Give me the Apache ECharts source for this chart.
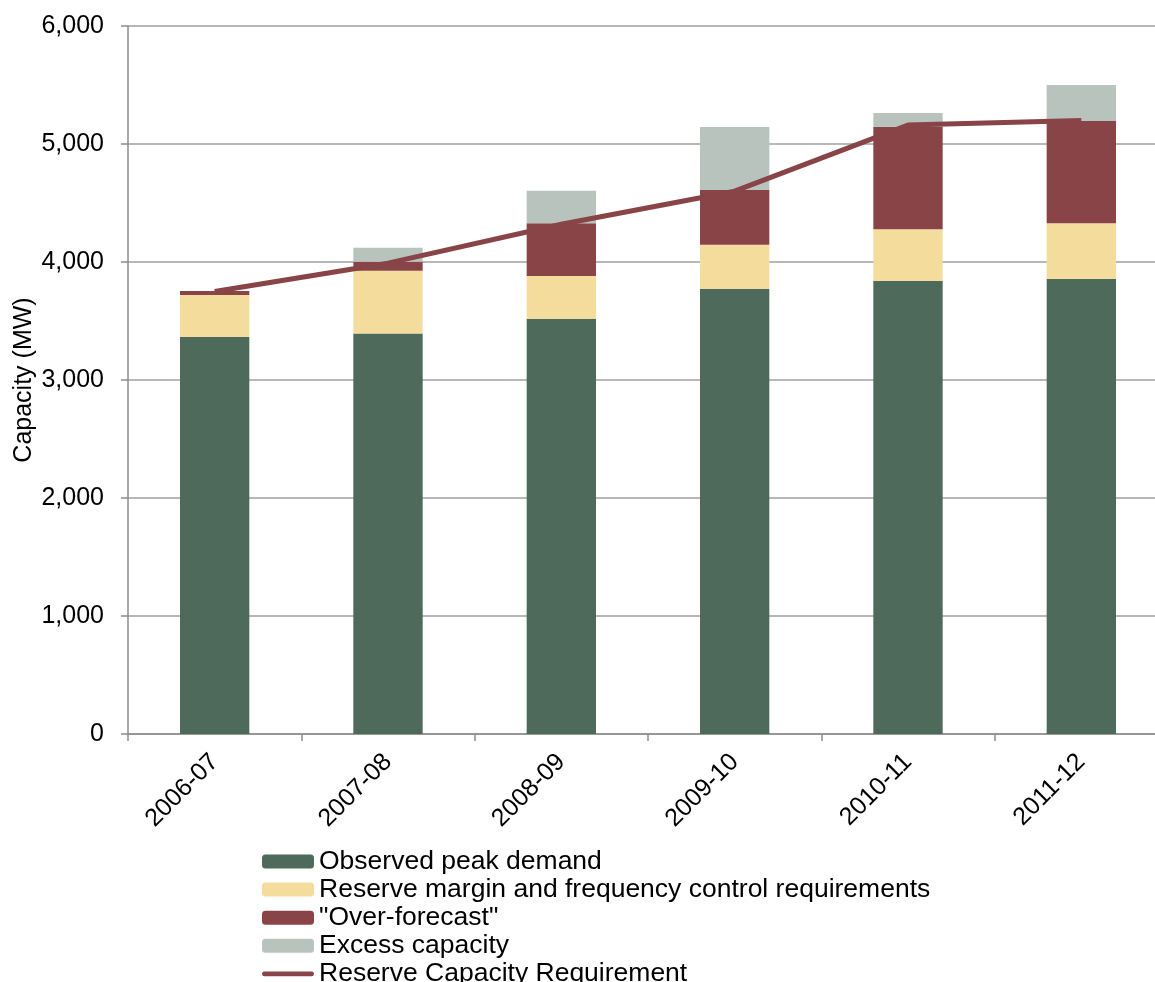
<!DOCTYPE html>
<html>
<head>
<meta charset="utf-8">
<script src="https://cdn.jsdelivr.net/npm/echarts@6/dist/echarts.min.js"></script>
<style>
  html, body { margin: 0; padding: 0; background: #fff; overflow: hidden; }
  #chart { width: 1155px; height: 982px; }
</style>
</head>
<body>
<div id="chart"></div>
<script>
// Financial years on the category axis
const years = ['2006-07', '2007-08', '2008-09', '2009-10', '2010-11', '2011-12'];

// Stacked capacity components (MW)
const observedPeak = [3364, 3395, 3520, 3774, 3839, 3856];
const reserveMargin = [356, 531, 361, 373, 438, 472];
const overForecast = [34, 77, 447, 463, 870, 867];
const excessCapacity = [0, 118, 276, 534, 116, 305];

// Reserve Capacity Requirement (MW)
const reserveRequirement = [3750, 3990, 4320, 4600, 5160, 5200];

const FONT = "'Liberation Sans', Arial, sans-serif";
const AXIS_GREY = '#8c8c8c';
const LINE_RED = '#884446';

const chart = echarts.init(document.getElementById('chart'));

function barSeries(name, data, color) {
  return {
    name: name,
    type: 'bar',
    stack: 'capacity',
    data: data,
    barWidth: '40%',
    itemStyle: { color: color },
    emphasis: { disabled: true }
  };
}

chart.setOption({
  animation: false,
  textStyle: { fontFamily: FONT },
  // plot area runs past the right edge of the canvas
  grid: {
    left: 128, right: -13, top: 26, bottom: 248,
    containLabel: false,
    outerBoundsMode: 'none'
  },
  legend: {
    orient: 'vertical',
    left: 262,
    top: 848,
    height: 300,
    padding: 0,
    itemWidth: 52,
    itemHeight: 14,
    itemGap: 1.1,
    textStyle: { fontFamily: FONT, fontSize: 26.5, lineHeight: 26, color: '#000' },
    data: [
      'Observed peak demand',
      'Reserve margin and frequency control requirements',
      '"Over-forecast"',
      'Excess capacity',
      {
        name: 'Reserve Capacity Requirement',
        // thin bar standing in for the line swatch
        icon: 'path://M2,0 L50,0 A2.5,2.5 0 0 1 50,5 L2,5 A2.5,2.5 0 0 1 2,0 Z'
      }
    ]
  },
  xAxis: {
    type: 'category',
    data: years,
    boundaryGap: true,
    axisLine: { lineStyle: { color: AXIS_GREY, width: 1.5 } },
    axisTick: { show: true, length: 7, lineStyle: { color: AXIS_GREY, width: 1.5 } },
    axisLabel: {
      rotate: 45,
      margin: 24,
      fontFamily: FONT,
      fontSize: 25,
      color: '#000'
    }
  },
  yAxis: {
    type: 'value',
    min: 0,
    max: 6000,
    interval: 1000,
    name: 'Capacity (MW)',
    nameLocation: 'middle',
    nameGap: 91,
    nameMoveOverlap: false,
    nameTextStyle: { fontFamily: FONT, fontSize: 25, color: '#000' },
    axisLine: { show: true, lineStyle: { color: AXIS_GREY, width: 1.5 } },
    axisTick: { show: true, length: 7, lineStyle: { color: AXIS_GREY, width: 1.5 } },
    splitLine: { lineStyle: { color: '#a0a0a0', width: 1.5 } },
    axisLabel: {
      margin: 24,
      fontFamily: FONT,
      fontSize: 25,
      color: '#000',
      formatter: v => v.toLocaleString('en-US')
    }
  },
  series: [
    barSeries('Observed peak demand', observedPeak, '#4e6a5b'),
    barSeries('Reserve margin and frequency control requirements', reserveMargin, '#f3dc9c'),
    barSeries('"Over-forecast"', overForecast, '#884446'),
    barSeries('Excess capacity', excessCapacity, '#b9c3bd'),
    {
      name: 'Reserve Capacity Requirement',
      type: 'line',
      data: reserveRequirement,
      symbol: 'none',
      lineStyle: { color: LINE_RED, width: 5 },
      itemStyle: { color: LINE_RED },
      z: 5
    }
  ]
});
</script>
</body>
</html>
